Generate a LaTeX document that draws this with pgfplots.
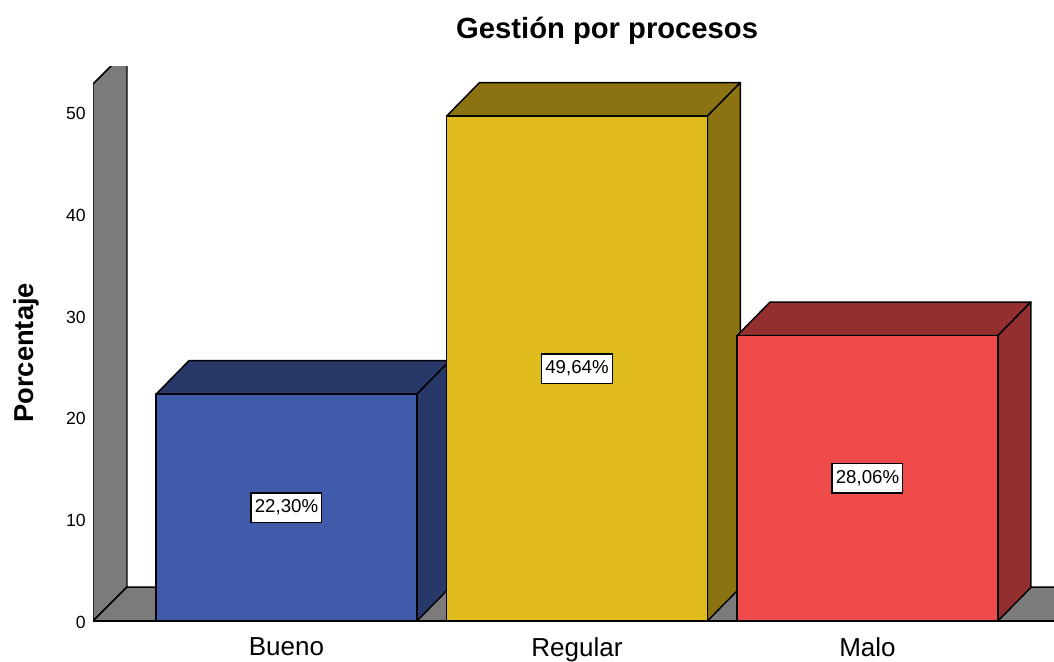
\documentclass[border=0pt]{standalone}
\usepackage{pgfplots}
\pgfplotsset{compat=1.18}
\usepackage{fontspec}
\setmainfont{Liberation Sans}
\definecolor{wallgray}{HTML}{7B7B7B}
\definecolor{bluefront}{HTML}{3F5BA9}
\definecolor{bluedark}{HTML}{273869}
\definecolor{yellowfront}{HTML}{E0BB1C}
\definecolor{yellowdark}{HTML}{8B7312}
\definecolor{redfront}{HTML}{EF4B4B}
\definecolor{reddark}{HTML}{932F2F}
\tikzset{data label/.style={draw=black, fill=white, line width=1pt, inner sep=0pt, minimum height=22pt, text width=53pt, align=center, font=\fontsize{14pt}{16pt}\selectfont}}
\begin{document}
\begin{tikzpicture}
	\useasboundingbox (0,0) rectangle (790.5pt,495.75pt);
	\begin{axis}[
		at={(69.75pt,30pt)},
		anchor=south west,
		width=720.75pt,
		height=415.5pt,
		scale only axis,
		xmin=-0.666, xmax=2.642,
		ymin=0, ymax=54.47,
		xtick={0,1,2},
		xticklabels={Bueno,Regular,Malo},
		ytick={0,10,...,50},
		axis line style={draw=none},
		major tick length=0pt,
		/pgf/number format/assume math mode=true,
		yticklabel style={font=\fontsize{13.2pt}{14pt}\selectfont, xshift=-2pt, yshift=-1pt},
		xticklabel style={font=\fontsize{19.5pt}{22pt}\selectfont, yshift=-9pt},
		title={\textbf{Gestión por procesos}},
		title style={at={(axis description cs:0.535,1.0506)}, anchor=center, font=\fontsize{21.9pt}{24pt}\selectfont},
		ylabel={\textbf{Porcentaje}},
		ylabel style={at={(axis description cs:-0.0688,0.484)}, anchor=center, font=\fontsize{20.5pt}{24pt}\selectfont},
		every axis plot/.append style={line width=1.1pt, line join=round, draw=black, mark=none},
	]
		% walls
		\addplot[fill=wallgray] coordinates {(-0.666,0) (-0.549,3.34) (-0.549,56.14) (-0.666,52.8)} -- cycle;
		\addplot[fill=wallgray] coordinates {(-0.666,0) (-0.549,3.34) (2.8,3.34) (2.8,0)} -- cycle;

		% Bueno
		\addplot[fill=bluedark] coordinates {(-0.449,22.30) (-0.3354,25.6) (0.5626,25.6) (0.449,22.30)} -- cycle;
		\addplot[fill=bluedark] coordinates {(0.449,0) (0.5626,3.3) (0.5626,25.6) (0.449,22.30)} -- cycle;
		\addplot[fill=bluefront] coordinates {(-0.449,0) (-0.449,22.30) (0.449,22.30) (0.449,0)} -- cycle;

		% Regular
		\addplot[fill=yellowdark] coordinates {(0.551,49.64) (0.6646,52.94) (1.5626,52.94) (1.449,49.64)} -- cycle;
		\addplot[fill=yellowdark] coordinates {(1.449,0) (1.5626,3.3) (1.5626,52.94) (1.449,49.64)} -- cycle;
		\addplot[fill=yellowfront] coordinates {(0.551,0) (0.551,49.64) (1.449,49.64) (1.449,0)} -- cycle;

		% Malo
		\addplot[fill=reddark] coordinates {(1.551,28.06) (1.6646,31.36) (2.5626,31.36) (2.449,28.06)} -- cycle;
		\addplot[fill=reddark] coordinates {(2.449,0) (2.5626,3.3) (2.5626,31.36) (2.449,28.06)} -- cycle;
		\addplot[fill=redfront] coordinates {(1.551,0) (1.551,28.06) (2.449,28.06) (2.449,0)} -- cycle;

		% base line
		\addplot[line width=1.2pt] coordinates {(-0.666,0) (2.642,0)};

		\node[data label] at (axis cs:0,11.15) {22,30\%};
		\node[data label] at (axis cs:1,24.82) {49,64\%};
		\node[data label] at (axis cs:2,14.03) {28,06\%};
	\end{axis}
\end{tikzpicture}
\end{document}
